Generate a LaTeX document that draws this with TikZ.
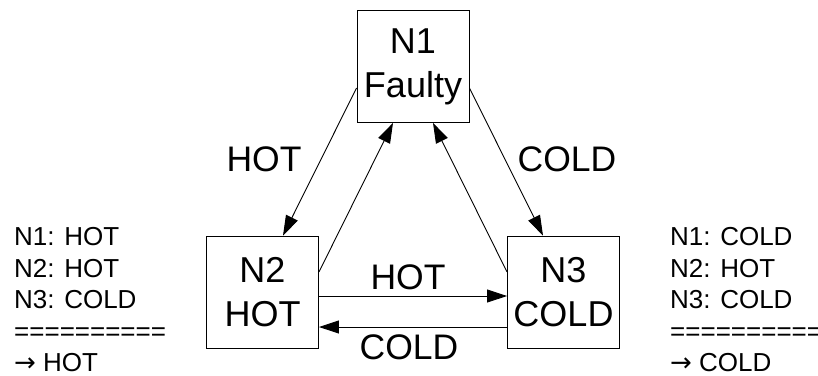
\documentclass[tikz,border=0pt]{standalone}
\usepackage{fontspec}
\setmainfont{Liberation Sans}
\newfontfamily\arrowfont{DejaVu Sans}
\usetikzlibrary{arrows.meta,calc}
\begin{document}
\begin{tikzpicture}[x=1pt,y=-1pt,
  box/.style={draw,line width=0.9pt,minimum width=112pt,minimum height=112pt,inner sep=0pt,align=center,font=\fontsize{36}{44}\selectfont},
  lbl/.style={inner sep=0pt,font=\fontsize{35.5}{42}\selectfont},
  side/.style={inner sep=0pt,anchor=north west,align=left,font=\fontsize{26}{31.5}\selectfont},
  arr/.style={line width=0.9pt,-{Triangle[length=20pt,width=13pt]}}]
\useasboundingbox (0,0) rectangle (818,375);
\node[box] (N1) at (413,66.5) {N1\\Faulty};
\node[box] (N2) at (262.5,292) {N2\\HOT};
\node[box] (N3) at (563.5,292) {N3\\COLD};
\draw[arr] ($(N1.west)+(0,21.5)$) -- ($(N2.north)+(20.5,0)$);
\draw[arr] ($(N2.east)+(0,-20)$) -- ($(N1.south)+(-20,0)$);
\draw[arr] ($(N3.west)+(0,-20)$) -- ($(N1.south)+(20,0)$);
\draw[arr] ($(N1.east)+(0,21.5)$) -- ($(N3.north)+(-20.5,0)$);
\draw[arr] ($(N2.east)+(0,4)$) -- ($(N3.west)+(0,4)$);
\draw[arr] ($(N3.west)+(0,35)$) -- ($(N2.east)+(0,35)$);
\node[lbl] (l1) at (264,159.5) {HOT};
\node[lbl] (l2) at (567,159.5) {COLD};
\node[lbl] (l3) at (408,277) {HOT};
\node[lbl] (l4) at (409,347.5) {COLD};
\node[side] (left) at (14,227.4) {N1: HOT\\N2: HOT\\N3: COLD\\==========\\{\arrowfont →} HOT};
\node[side] (right) at (670,227.4) {N1: COLD\\N2: HOT\\N3: COLD\\==========\\{\arrowfont →} COLD};
\end{tikzpicture}
\end{document}
